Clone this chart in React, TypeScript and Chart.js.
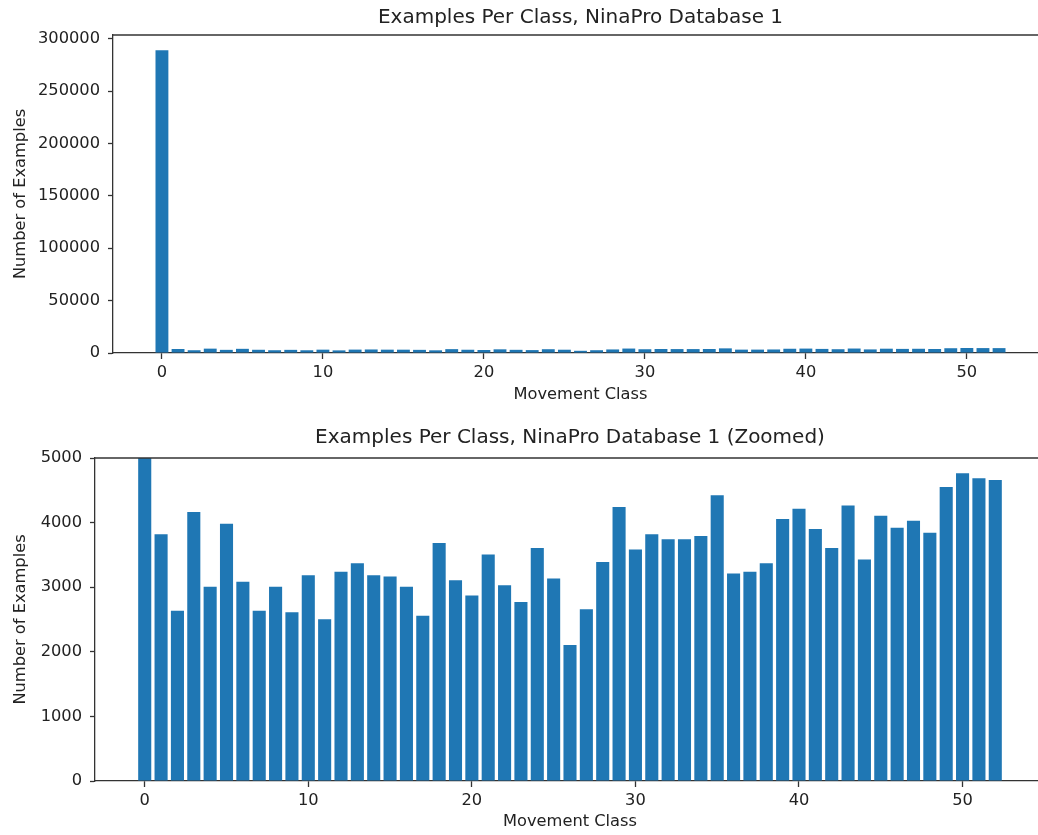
import React, { useEffect, useRef } from "react";
import { Chart, registerables } from "chart.js";

Chart.register(...registerables);

const classes = [
  0, 1, 2, 3, 4, 5, 6, 7, 8, 9, 10, 11, 12, 13, 14, 15, 16, 17, 18, 19, 20, 21, 22, 23, 24, 25, 26,
  27, 28, 29, 30, 31, 32, 33, 34, 35, 36, 37, 38, 39, 40, 41, 42, 43, 44, 45, 46, 47, 48, 49, 50, 51, 52,
];
const counts = [
  289000, 3818, 2636, 4163, 3006, 3983, 3083, 2636, 3006, 2611, 3186, 2503, 3238, 3371, 3186, 3166,
  3006, 2559, 3685, 3109, 2873, 3505, 3032, 2770, 3608, 3135, 2107, 2657, 3392, 4240, 3582, 3818,
  3741, 3741, 3793, 4425, 3212, 3238, 3371, 4055, 4214, 3901, 3608, 4265, 3428, 4106, 3921, 4029,
  3844, 4553, 4764, 4687, 4661,
];
const xTicks = [0, 10, 20, 30, 40, 50];
const yTicksFull = [0, 50000, 100000, 150000, 200000, 250000, 300000];
const yTicksZoom = [0, 1000, 2000, 3000, 4000, 5000];
const titleFull = "Examples Per Class, NinaPro Database 1";
const titleZoom = "Examples Per Class, NinaPro Database 1 (Zoomed)";
const xLabel = "Movement Class";
const yLabel = "Number of Examples";

const FONT = "DejaVu Sans";
const TEXT = "#222";
const LINE = "#333";
const BAR = "#1f77b4";

const topSpine = {
  id: "topSpine",
  afterDraw(chart: any) {
    const { ctx, chartArea } = chart;
    ctx.save();
    ctx.strokeStyle = LINE;
    ctx.lineWidth = 1.3;
    ctx.beginPath();
    ctx.moveTo(chartArea.left, chartArea.top);
    ctx.lineTo(chartArea.right, chartArea.top);
    ctx.stroke();
    ctx.restore();
  },
};

type Cfg = {
  title: string;
  titlePad: { top: number; bottom: number };
  yMax: number;
  yTicks: number[];
  xMin: number;
  xMax: number;
  yWidth: number;
  xHeight: number;
  xTitlePadBottom: number;
};

function makeConfig(c: Cfg): any {
  return {
    type: "bar",
    data: {
      datasets: [
        {
          data: classes.map((x, i) => ({ x, y: counts[i] })),
          backgroundColor: BAR,
          borderWidth: 0,
          barPercentage: 0.8,
          categoryPercentage: 1,
          clip: 0,
        },
      ],
    },
    options: {
      responsive: false,
      devicePixelRatio: 1,
      animation: false,
      layout: { padding: 0 },
      plugins: {
        legend: { display: false },
        tooltip: { enabled: false },
        title: {
          display: true,
          fullSize: false,
          text: c.title,
          color: TEXT,
          font: { family: FONT, size: 20, weight: "normal" },
          padding: c.titlePad,
        },
      },
      scales: {
        x: {
          type: "linear",
          min: c.xMin,
          max: c.xMax,
          offset: false,
          afterBuildTicks: (s: any) => {
            s.ticks = xTicks.map((v) => ({ value: v }));
          },
          afterFit: (s: any) => {
            s.height = c.xHeight;
          },
          grid: {
            display: true,
            offset: false,
            drawOnChartArea: false,
            drawTicks: true,
            tickLength: 6,
            tickColor: LINE,
            tickWidth: 1.3,
            color: LINE,
          },
          border: { display: true, color: LINE, width: 1.3 },
          ticks: {
            color: TEXT,
            padding: 4,
            maxRotation: 0,
            font: { family: FONT, size: 16.25 },
            callback: (v: any) => String(v),
          },
          title: {
            display: true,
            text: xLabel,
            color: TEXT,
            font: { family: FONT, size: 16.25 },
            padding: { top: 0, bottom: c.xTitlePadBottom },
          },
        },
        y: {
          type: "linear",
          min: 0,
          max: c.yMax,
          afterBuildTicks: (s: any) => {
            s.ticks = c.yTicks.map((v) => ({ value: v }));
          },
          afterFit: (s: any) => {
            s.width = c.yWidth;
          },
          grid: {
            display: true,
            drawOnChartArea: false,
            drawTicks: true,
            tickLength: 5,
            tickColor: LINE,
            tickWidth: 1.3,
            color: LINE,
          },
          border: { display: true, color: LINE, width: 1.3 },
          ticks: {
            color: TEXT,
            padding: 8,
            font: { family: FONT, size: 16.25 },
            callback: (v: any) => String(v),
          },
          title: {
            display: true,
            text: yLabel,
            color: TEXT,
            font: { family: FONT, size: 16.25 },
            padding: { top: 10.75, bottom: 0 },
          },
        },
      },
    },
    plugins: [topSpine],
  };
}

function BarPanel({ cfg, top, width, height }: { cfg: Cfg; top: number; width: number; height: number }) {
  const ref = useRef<HTMLCanvasElement | null>(null);
  useEffect(() => {
    if (!ref.current) return;
    const chart = new Chart(ref.current, makeConfig(cfg));
    return () => chart.destroy();
  }, []);
  return (
    <div style={{ position: "absolute", left: 0, top, width, height }}>
      <canvas ref={ref} width={width} height={height} style={{ width, height, display: "block" }} />
    </div>
  );
}

const fullCfg: Cfg = {
  title: titleFull,
  titlePad: { top: 5.5, bottom: 5.5 },
  yMax: 303450,
  yTicks: yTicksFull,
  xMin: -3.04,
  xMax: 55.04,
  yWidth: 113,
  xHeight: 57,
  xTitlePadBottom: 5.25,
};

const zoomCfg: Cfg = {
  title: titleZoom,
  titlePad: { top: 16, bottom: 8 },
  yMax: 5000,
  yTicks: yTicksZoom,
  xMin: -3.04,
  xMax: 55.04,
  yWidth: 95,
  xHeight: 54,
  xTitlePadBottom: 3.25,
};

export default function App() {
  return (
    <div
      style={{
        position: "absolute",
        left: 0,
        top: 0,
        width: 1038,
        height: 835,
        overflow: "hidden",
        background: "#fff",
      }}
    >
      <BarPanel cfg={fullCfg} top={0} width={1048} height={410} />
      <BarPanel cfg={zoomCfg} top={410} width={1045} height={425} />
    </div>
  );
}
